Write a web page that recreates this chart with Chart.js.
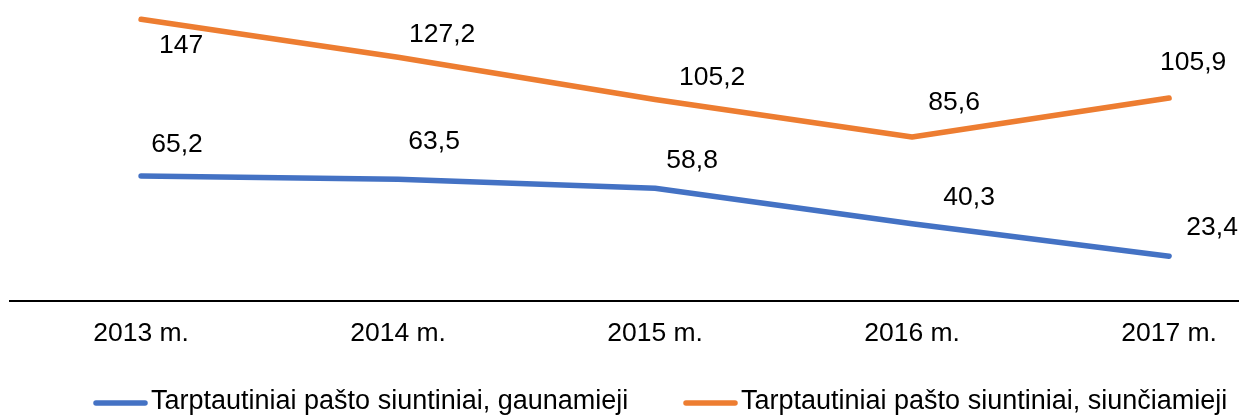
<!DOCTYPE html>
<html>
<head>
<meta charset="utf-8">
<script src="https://cdn.jsdelivr.net/npm/chart.js@4/dist/chart.umd.min.js"></script>
<style>
  html, body { margin: 0; padding: 0; background: #fff; }
  #wrap { width: 1239px; height: 415px; position: relative; }
</style>
</head>
<body>
<div id="wrap"><canvas id="chart"></canvas></div>
<script>
// Chart data
const years = ["2013 m.", "2014 m.", "2015 m.", "2016 m.", "2017 m."];
const incoming = [65.2, 63.5, 58.8, 40.3, 23.4];
const outgoing = [147, 127.2, 105.2, 85.6, 105.9];
const seriesNames = [
    "Tarptautiniai pašto siuntiniai, gaunamieji",
    "Tarptautiniai pašto siuntiniai, siunčiamieji"
];

const BLUE = "#4472C4";
const ORANGE = "#ED7D31";
const FONT = "'Liberation Sans', Arial, sans-serif";

// turn a value list into points on the numeric x axis (index = category)
function toPoints(values) {
    return values.map((v, i) => ({ x: i, y: v }));
}

// where each value label sits relative to its point (like Excel placed them)
const labelShift = [
    [[36, -31], [36, -38], [37, -28], [57, -26], [43, -28]],
    [[40, 26], [44, -23], [57, -22], [42, -34], [24, -35]]
];

// value labels drawn next to the points
const valueLabels = {
    id: "valueLabels",
    afterDatasetsDraw(chart) {
        const ctx = chart.ctx;
        ctx.save();
        ctx.font = "26.5px " + FONT;
        ctx.fillStyle = "#000";
        ctx.textAlign = "center";
        ctx.textBaseline = "middle";
        chart.data.datasets.forEach((ds, di) => {
            chart.getDatasetMeta(di).data.forEach((pt, i) => {
                const txt = String(ds.data[i].y).replace(".", ",");
                const s = labelShift[di][i];
                ctx.fillText(txt, pt.x + s[0], pt.y + s[1]);
            });
        });
        ctx.restore();
    }
};

// legend at the bottom, line sample then text
const bottomLegend = {
    id: "bottomLegend",
    afterDraw(chart) {
        const ctx = chart.ctx;
        const items = [
            { color: BLUE, x: 93, text: seriesNames[0] },
            { color: ORANGE, x: 683, text: seriesNames[1] }
        ];
        ctx.save();
        ctx.font = "27px " + FONT;
        ctx.fillStyle = "#000";
        ctx.textBaseline = "alphabetic";
        ctx.textAlign = "left";
        items.forEach(it => {
            ctx.strokeStyle = it.color;
            ctx.lineWidth = 5.5;
            ctx.lineCap = "round";
            ctx.beginPath();
            ctx.moveTo(it.x + 3, 403);
            ctx.lineTo(it.x + 52, 403);
            ctx.stroke();
            ctx.fillText(it.text, it.x + 58, 408.5);
        });
        ctx.restore();
    }
};

new Chart(document.getElementById("chart"), {
    type: "line",
    data: {
        datasets: [
            {
                label: seriesNames[0],
                data: toPoints(incoming),
                borderColor: BLUE,
                borderWidth: 5.5,
                borderCapStyle: "round",
                borderJoinStyle: "round",
                pointRadius: 0,
                tension: 0,
                clip: false
            },
            {
                label: seriesNames[1],
                data: toPoints(outgoing),
                borderColor: ORANGE,
                borderWidth: 5.5,
                borderCapStyle: "round",
                borderJoinStyle: "round",
                pointRadius: 0,
                tension: 0,
                clip: false
            }
        ]
    },
    options: {
        responsive: true,
        maintainAspectRatio: false,
        animation: false,
        layout: { padding: { top: 4, left: 10, right: 0, bottom: 0 } },
        plugins: {
            legend: { display: false },
            tooltip: { enabled: false }
        },
        scales: {
            x: {
                type: "linear",
                min: -0.51,
                max: 4.272,
                afterBuildTicks: function(scale) {
                    scale.ticks = years.map((y, i) => ({ value: i }));
                },
                afterFit: function(scale) {
                    scale.height = 114;
                },
                grid: { display: false, drawTicks: false },
                border: { display: true, color: "#000", width: 2 },
                ticks: {
                    padding: 17,
                    color: "#000",
                    font: { family: FONT, size: 26.5 },
                    maxRotation: 0,
                    autoSkip: false,
                    callback: function(value) {
                        return years[value] !== undefined ? years[value] : "";
                    }
                }
            },
            y: {
                display: false,
                min: 0,
                max: 155
            }
        }
    },
    plugins: [valueLabels, bottomLegend]
});
</script>
</body>
</html>
